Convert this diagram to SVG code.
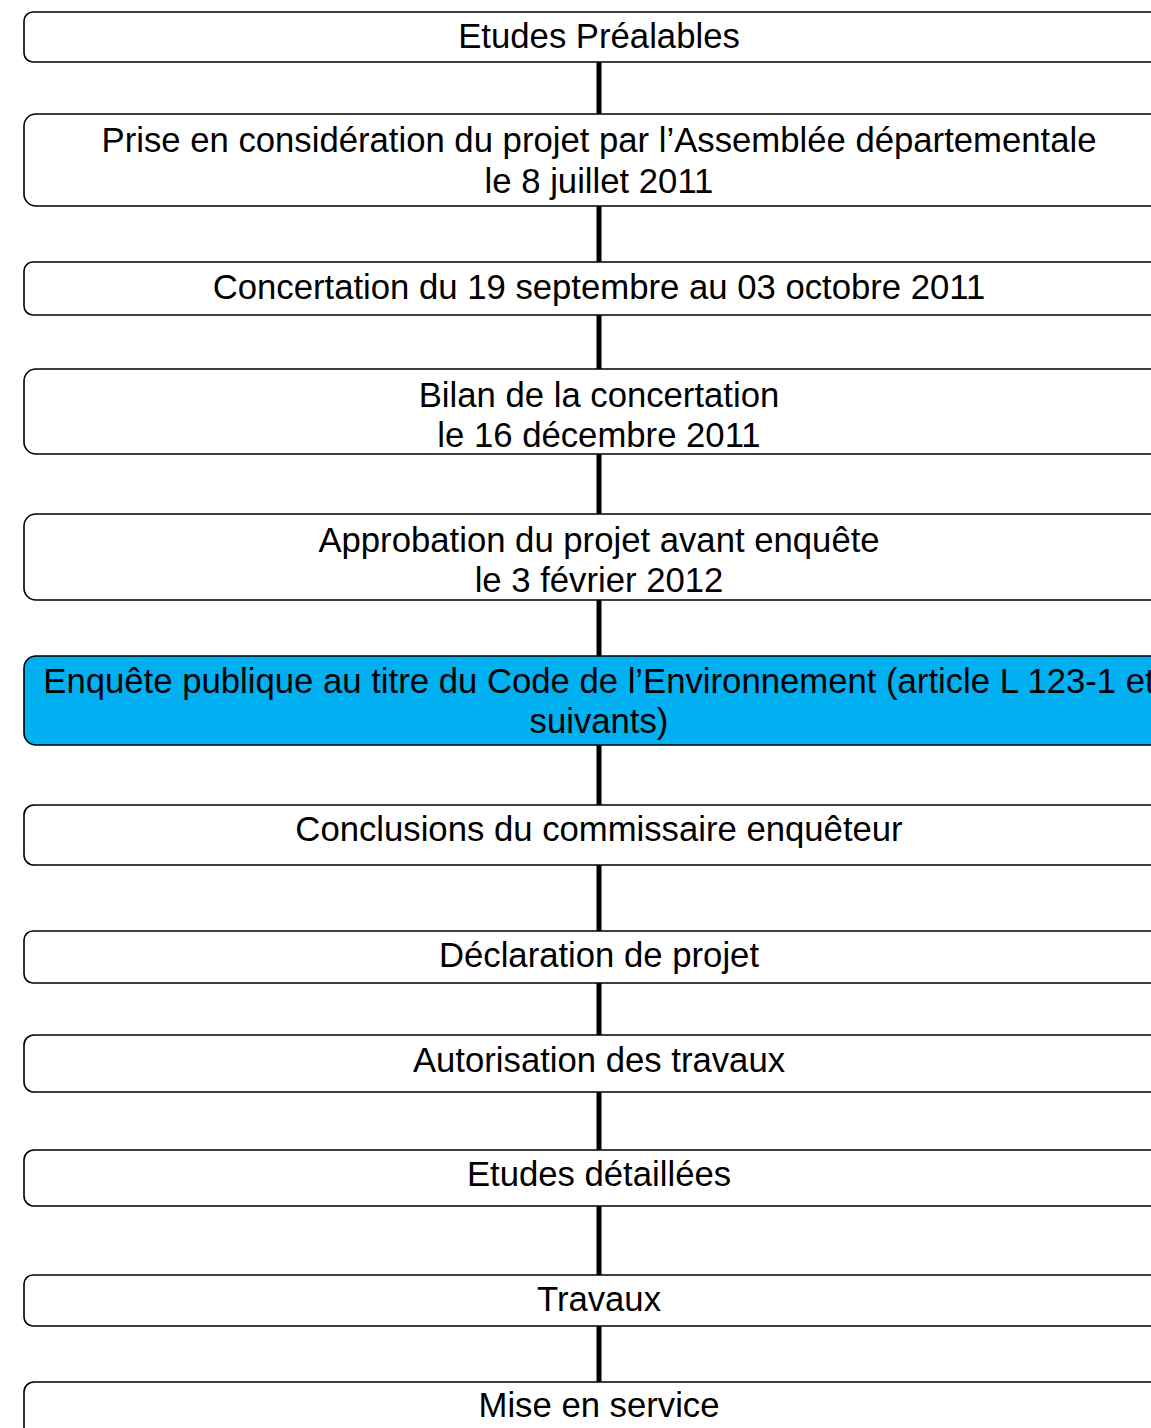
<svg xmlns="http://www.w3.org/2000/svg" width="1151" height="1428" viewBox="0 0 1151 1428">
<style>
.box{fill:#ffffff;stroke:#000000;stroke-width:1.6}
.hl{fill:#00b0f0;stroke:#000000;stroke-width:1.6}
.t{font-family:"Liberation Sans",Arial,sans-serif;font-size:34.7px;fill:#000000;text-anchor:middle}
.c{stroke:#000000;stroke-width:5;fill:none}
</style>
<rect width="1151" height="1428" fill="#ffffff"/>
<g id="connectors">
<line class="c" x1="599" y1="62" x2="599" y2="114"/>
<line class="c" x1="599" y1="206" x2="599" y2="262"/>
<line class="c" x1="599" y1="315" x2="599" y2="369"/>
<line class="c" x1="599" y1="454" x2="599" y2="514"/>
<line class="c" x1="599" y1="600" x2="599" y2="656"/>
<line class="c" x1="599" y1="745" x2="599" y2="805"/>
<line class="c" x1="599" y1="865" x2="599" y2="931"/>
<line class="c" x1="599" y1="983" x2="599" y2="1035"/>
<line class="c" x1="599" y1="1092" x2="599" y2="1150"/>
<line class="c" x1="599" y1="1206" x2="599" y2="1275"/>
<line class="c" x1="599" y1="1326" x2="599" y2="1382"/>
</g>
<g id="n1"><rect class="box" x="24" y="12" width="1152" height="50" rx="9"/><text class="t" x="599" y="48">Etudes Préalables</text></g>
<g id="n2"><rect class="box" x="24" y="114" width="1152" height="92" rx="12"/><text class="t" x="599" y="152">Prise en considération du projet par l’Assemblée départementale</text><text class="t" x="599" y="193">le 8 juillet 2011</text></g>
<g id="n3"><rect class="box" x="24" y="262" width="1152" height="53" rx="9"/><text class="t" x="599" y="299">Concertation du 19 septembre au 03 octobre 2011</text></g>
<g id="n4"><rect class="box" x="24" y="369" width="1152" height="85" rx="12"/><text class="t" x="599" y="407">Bilan de la concertation</text><text class="t" x="599" y="447">le 16 décembre 2011</text></g>
<g id="n5"><rect class="box" x="24" y="514" width="1152" height="86" rx="12"/><text class="t" x="599" y="552">Approbation du projet avant enquête</text><text class="t" x="599" y="592">le 3 février 2012</text></g>
<g id="n6"><rect class="hl" x="24" y="656" width="1152" height="89" rx="12"/><text class="t" x="599" y="693">Enquête publique au titre du Code de l’Environnement (article L 123-1 et</text><text class="t" x="599" y="733">suivants)</text></g>
<g id="n7"><rect class="box" x="24" y="805" width="1152" height="60" rx="10"/><text class="t" x="599" y="841">Conclusions du commissaire enquêteur</text></g>
<g id="n8"><rect class="box" x="24" y="931" width="1152" height="52" rx="9"/><text class="t" x="599" y="967">Déclaration de projet</text></g>
<g id="n9"><rect class="box" x="24" y="1035" width="1152" height="57" rx="10"/><text class="t" x="599" y="1072">Autorisation des travaux</text></g>
<g id="n10"><rect class="box" x="24" y="1150" width="1152" height="56" rx="10"/><text class="t" x="599" y="1186">Etudes détaillées</text></g>
<g id="n11"><rect class="box" x="24" y="1275" width="1152" height="51" rx="9"/><text class="t" x="599" y="1311">Travaux</text></g>
<g id="n12"><rect class="box" x="24" y="1382" width="1152" height="70" rx="10"/><text class="t" x="599" y="1417">Mise en service</text></g>
</svg>
